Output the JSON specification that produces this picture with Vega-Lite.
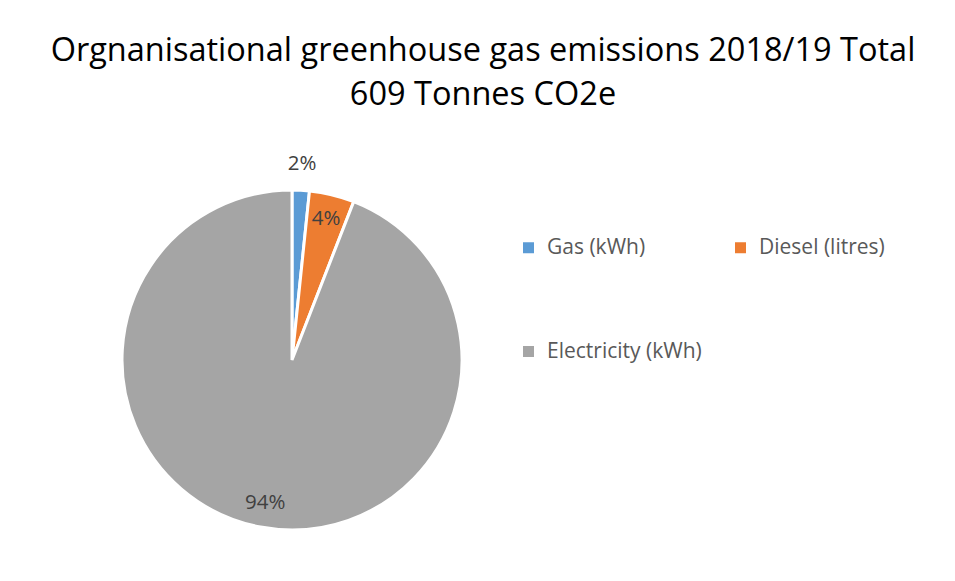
{
  "$schema": "https://vega.github.io/schema/vega-lite/v6.json",
  "width": 340,
  "height": 340,
  "autosize": {"type": "none"},
  "padding": {"left": 122, "top": 190, "right": 493, "bottom": 51},
  "background": "white",
  "title": {
    "text": ["Orgnanisational greenhouse gas emissions 2018/19 Total", "609 Tonnes CO2e"],
    "font": "Open Sans",
    "fontSize": 32.5,
    "fontWeight": "normal",
    "color": "#000000",
    "anchor": "middle",
    "dx": 191,
    "offset": 43,
    "lineHeight": 44
  },
  "data": {
    "values": [
      {"source": "Gas (kWh)", "tonnes": 10, "idx": 1, "label": "2%"},
      {"source": "Diesel (litres)", "tonnes": 26, "idx": 2, "label": "4%"},
      {"source": "Electricity (kWh)", "tonnes": 573, "idx": 3, "label": "94%"}
    ]
  },
  "encoding": {
    "theta": {"field": "tonnes", "type": "quantitative", "stack": true},
    "order": {"field": "idx", "type": "quantitative"}
  },
  "layer": [
    {
      "mark": {"type": "arc", "outerRadius": 170, "stroke": "white", "strokeWidth": 3},
      "encoding": {
        "color": {
          "field": "source",
          "type": "nominal",
          "scale": {
            "domain": ["Gas (kWh)", "Diesel (litres)", "Electricity (kWh)"],
            "range": ["#5B9BD5", "#ED7D31", "#A5A5A5"]
          },
          "legend": {
            "title": null,
            "orient": "none",
            "legendX": 396,
            "legendY": 47,
            "direction": "horizontal",
            "columns": 2,
            "columnPadding": 28,
            "rowPadding": 82,
            "symbolType": "square",
            "symbolSize": 121,
            "symbolStrokeWidth": 0,
            "labelFont": "Open Sans",
            "labelFontSize": 21,
            "labelColor": "#595959",
            "labelOffset": 8,
            "labelLimit": 300
          }
        }
      }
    },
    {
      "mark": {
        "type": "text",
        "radius": {"expr": "datum.source === 'Gas (kWh)' ? 196 : 145"},
        "font": "Open Sans",
        "fontSize": 20.5,
        "color": "#404040"
      },
      "encoding": {
        "text": {"field": "label", "type": "nominal"}
      }
    }
  ]
}
